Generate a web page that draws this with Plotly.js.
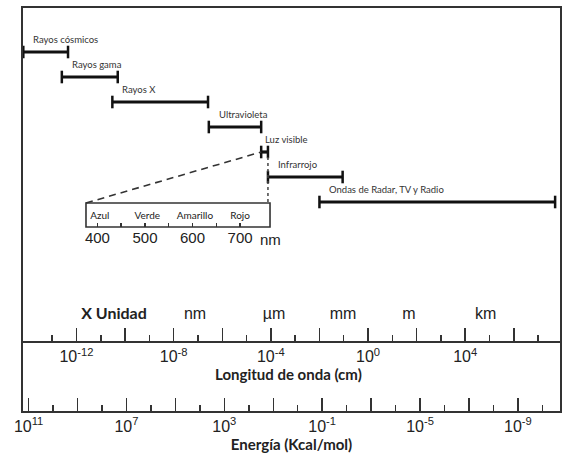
<!DOCTYPE html>
<html>
<head>
<meta charset="utf-8">
<script src="https://cdn.plot.ly/plotly-3.0.1.min.js"></script>
<style>html,body{margin:0;padding:0;background:#fff;}#chart{width:564px;height:459px;}</style>
</head>
<body>
<div id="chart"></div>
<script>
// ---- data ----
const regions = ['Rayos cósmicos', 'Rayos gama', 'Rayos X', 'Ultravioleta', 'Luz visible', 'Infrarrojo', 'Ondas de Radar, TV y Radio'];
const lambdaStart = [6.5e-15, 2.5e-13, 3e-11, 2.8e-7, 4e-5, 7.6e-5, 0.01];   // cm
const lambdaEnd   = [4.5e-13, 5e-11, 2.6e-7, 4e-5, 7.6e-5, 0.09, 5e7];      // cm

const unitNames = ['X Unidad', 'nm', 'µm', 'mm', 'm', 'km'];
const unitLambda = [3.5e-11, 7.6e-8, 1.35e-4, 0.093, 48, 7e4];              // cm

const colorNames = ['Azul', 'Verde', 'Amarillo', 'Rojo'];
const colorNm = [405, 505, 605, 700];
const visTickNm = [400, 450, 500, 550, 600, 650, 700];
const visTickText = ['400', '', '500', '', '600', '', '700'];

const waveMajorExp = [-12, -10, -8, -6, -4, -2, 0, 2, 4, 6];
const waveLabelExp = [-12, -8, -4, 0, 4];
const waveMinorExp = [-13, -11, -9, -7, -5, -3, -1, 1, 3, 5, 7];

const energyMajorExp = [11, 9, 7, 5, 3, 1, -1, -3, -5, -7, -9];
const energyLabelExp = [11, 7, 3, -1, -5, -9];
const energyMinorExp = [10, 8, 6, 4, 2, 0, -2, -4, -6, -8, -10];

// ---- helpers ----
const pow = e => Math.pow(10, e);
const lab = (e, show) => show.includes(e) ? '10<sup>' + e + '</sup>' : '';

const waveRange = [-14.2, 7.9];
const energyRange = [11.23, -10.72];
const insetDomain = [0.1173, 0.46];
const rectTop = -6.04, rectBottom = -7;

const ink = '#222';
const tickFont = {family: 'Liberation Sans, Arial, sans-serif', size: 16, color: ink};
const titleFont = {family: 'Lato, sans-serif', size: 15, color: ink, weight: 700};

// bars
const bx = [], by = [];
regions.forEach((r, i) => {
  bx.push(lambdaStart[i], lambdaEnd[i], null);
  by.push(-i, -i, null);
});
const visIdx = regions.indexOf('Luz visible');

const traces = [
  // keeps the energy axis (x) active
  {x: energyMajorExp.map(pow), y: energyMajorExp.map(() => null), xaxis: 'x', yaxis: 'y',
   type: 'scatter', mode: 'markers', hoverinfo: 'skip', showlegend: false},
  {
    x: bx, y: by, xaxis: 'x2', yaxis: 'y', type: 'scatter', mode: 'lines+markers',
    line: {color: '#111', width: 3.2},
    marker: {symbol: 'line-ns-open', size: 9, line: {color: '#111', width: 2.5}},
    hoverinfo: 'skip', showlegend: false, cliponaxis: true
  },
  // dashed line from inset corner to visible band
  {
    x: [pow(waveRange[0] + insetDomain[0] * (waveRange[1] - waveRange[0])), lambdaStart[visIdx]],
    y: [rectTop, -visIdx],
    xaxis: 'x2', yaxis: 'y', type: 'scatter', mode: 'lines',
    line: {color: '#333', width: 1.6, dash: '7px,5px'}, hoverinfo: 'skip', showlegend: false
  },
  // dotted vertical from visible band down to inset
  {
    x: [lambdaEnd[visIdx], lambdaEnd[visIdx]],
    y: [-visIdx - 0.2, rectTop],
    xaxis: 'x2', yaxis: 'y', type: 'scatter', mode: 'lines',
    line: {color: '#444', width: 1.5, dash: 'dot'}, hoverinfo: 'skip', showlegend: false
  },
  // unit labels
  {
    x: unitLambda, y: unitLambda.map(() => -10.52), xaxis: 'x2', yaxis: 'y',
    type: 'scatter', mode: 'text',
    text: unitNames.map((u, i) => i === 0 ? '<b>' + u + '</b>' : u),
    textposition: 'middle center',
    textfont: {family: unitNames.map((u, i) => i === 0 ? 'Lato, sans-serif' : 'Liberation Sans, Arial, sans-serif'), size: 16, color: ink},
    hoverinfo: 'skip', showlegend: false, cliponaxis: false
  },
  // colour names in inset
  {
    x: colorNm, y: colorNm.map(() => -6.56), xaxis: 'x3', yaxis: 'y',
    type: 'scatter', mode: 'text', text: colorNames, textposition: 'middle center',
    textfont: {family: 'Lato, sans-serif', size: 10, color: ink},
    hoverinfo: 'skip', showlegend: false, cliponaxis: false
  }
];

const annotations = regions.map((r, i) => ({
  x: Math.log10(lambdaStart[i]), y: -i, xref: 'x2', yref: 'y',
  text: r, showarrow: false, xanchor: 'left', yanchor: 'middle',
  xshift: i === visIdx ? 2 : 8, yshift: 13,
  font: {family: 'Lato, sans-serif', size: 9.5, color: '#333'}
}));
annotations.push({
  x: 1, xref: 'x3 domain', y: -7.48, yref: 'y', text: 'nm', showarrow: false,
  xanchor: 'center', yanchor: 'middle', font: {family: 'Liberation Sans, Arial, sans-serif', size: 15, color: ink}
});
// wavelength axis title (placed tightly under its tick labels)
annotations.push({
  x: 0.495, xref: 'paper', y: -12.86, yref: 'y', text: 'Longitud de onda (cm)', showarrow: false,
  xanchor: 'center', yanchor: 'middle', font: titleFont
});

const layout = {
  width: 564, height: 459,
  margin: {l: 23, r: 4, t: 8, b: 48},
  paper_bgcolor: '#fff', plot_bgcolor: 'rgba(0,0,0,0)',
  showlegend: false,
  xaxis: {
    type: 'log', range: energyRange, anchor: 'y', side: 'bottom',
    showline: true, mirror: true, linewidth: 2, linecolor: '#333',
    ticks: 'inside', ticklen: 13, tickwidth: 1.5, tickcolor: '#333',
    tickmode: 'array', tickvals: energyMajorExp.map(pow),
    ticktext: energyMajorExp.map(e => lab(e, energyLabelExp)),
    tickfont: tickFont,
    minor: {tickmode: 'array', tickvals: energyMinorExp.map(pow), ticks: 'inside', ticklen: 6, tickwidth: 1.5, tickcolor: '#333', showgrid: false},
    showgrid: false, zeroline: false,
    title: {text: 'Energía (Kcal/mol)', font: titleFont, standoff: 2}
  },
  xaxis2: {
    type: 'log', range: waveRange, anchor: 'free', position: 0.171, overlaying: 'x', side: 'bottom',
    showline: true, linewidth: 2, linecolor: '#333',
    ticks: 'inside', ticklen: 13, tickwidth: 1.5, tickcolor: '#333',
    tickmode: 'array', tickvals: waveMajorExp.map(pow),
    ticktext: waveMajorExp.map(e => lab(e, waveLabelExp)),
    tickfont: tickFont,
    minor: {tickmode: 'array', tickvals: waveMinorExp.map(pow), ticks: 'inside', ticklen: 6, tickwidth: 1.5, tickcolor: '#333', showgrid: false},
    showgrid: false, zeroline: false
  },
  xaxis3: {
    type: 'linear', range: [376, 763], domain: insetDomain, anchor: 'free', position: 0.4566,
    showline: false, ticks: 'inside', ticklen: 4, tickwidth: 1.5, tickcolor: '#333',
    tickmode: 'array', tickvals: visTickNm, ticktext: visTickText,
    tickfont: {family: 'Liberation Sans, Arial, sans-serif', size: 15, color: ink},
    showgrid: false, zeroline: false
  },
  yaxis: {
    range: [-14.36, 1.76], showline: true, mirror: true, linewidth: 2, linecolor: '#333',
    showticklabels: false, ticks: '', showgrid: false, zeroline: false
  },
  shapes: [
    {type: 'rect', xref: 'x3 domain', x0: 0, x1: 1, yref: 'y', y0: rectBottom, y1: rectTop,
     line: {color: '#333', width: 1.6}, fillcolor: 'rgba(0,0,0,0)'}
  ],
  annotations: annotations
};

Plotly.newPlot('chart', traces, layout, {staticPlot: true, displayModeBar: false});
</script>
</body>
</html>
